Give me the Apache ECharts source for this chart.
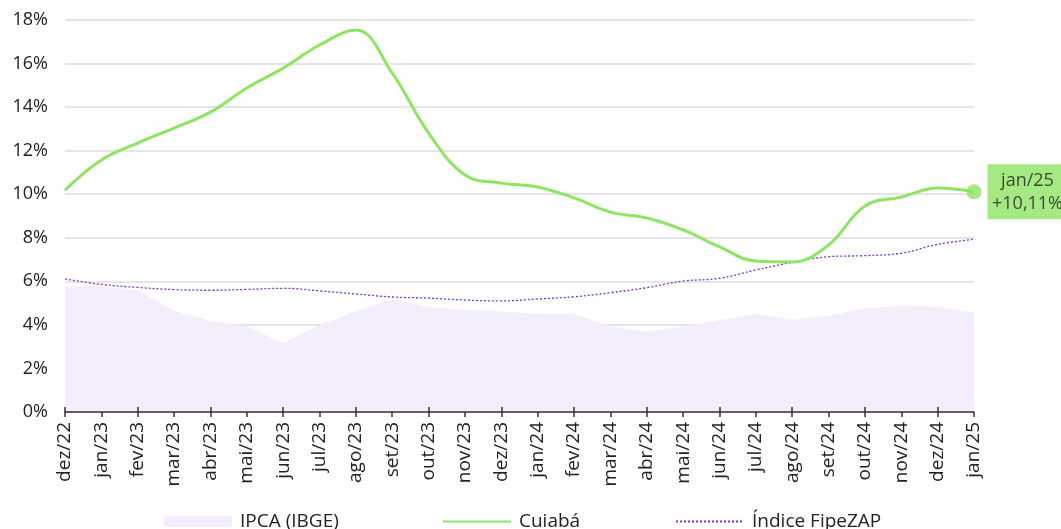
<!DOCTYPE html>
<html>
<head>
<meta charset="utf-8">
<script src="https://cdn.jsdelivr.net/npm/echarts@6/dist/echarts.min.js"></script>
<style>
  html, body { margin: 0; padding: 0; background: #fff; }
  #chart { width: 1061px; height: 529px; }
</style>
</head>
<body>
<div id="chart"></div>
<script>
// Months (12-month accumulated change, %)
const months = ['dez/22','jan/23','fev/23','mar/23','abr/23','mai/23','jun/23','jul/23','ago/23','set/23','out/23','nov/23','dez/23',
  'jan/24','fev/24','mar/24','abr/24','mai/24','jun/24','jul/24','ago/24','set/24','out/24','nov/24','dez/24','jan/25'];

// IPCA (IBGE) – consumer inflation, 12 months
const ipca = [5.79,5.77,5.60,4.65,4.18,3.94,3.16,3.99,4.61,5.19,4.82,4.68,4.62,
  4.51,4.50,3.93,3.69,3.93,4.23,4.50,4.24,4.42,4.76,4.87,4.83,4.56];

// Cuiabá – residential sale price, 12 months
const cuiaba = [10.19,11.57,12.35,13.04,13.77,14.88,15.79,16.85,17.54,15.56,12.81,10.88,10.51,
  10.33,9.83,9.18,8.91,8.36,7.58,6.93,6.89,7.67,9.46,9.87,10.28,10.11];

// Índice FipeZAP – national composite, 12 months
const fipezap = [6.11,5.86,5.72,5.62,5.59,5.63,5.68,5.56,5.42,5.28,5.23,5.14,5.10,
  5.19,5.29,5.48,5.71,6.01,6.14,6.52,6.87,7.13,7.18,7.29,7.70,7.93];

const yTicks = [0,2,4,6,8,10,12,14,16,18];

const GREEN = '#8ee463';
const PURPLE = '#7a2fe0';
const LAVENDER = '#f3edfc';
const TEXT = '#222222';
const FONT = '"Open Sans", "Noto Sans", sans-serif';
const NO_SYMBOL = { color: 'rgba(0,0,0,0)', borderColor: 'rgba(0,0,0,0)', borderWidth: 0 };

const last = months.length - 1;
const fmtPct = v => v.toFixed(2).replace('.', ',');

// one legend block per entry so each sits at its own place along the bottom
function legendAt(left, item) {
  return {
    top: 507,
    left: left,
    itemWidth: 68,
    itemHeight: 11,
    textStyle: { fontFamily: FONT, fontSize: 19, color: TEXT, padding: [0, 0, 0, 3] },
    data: [item]
  };
}

const chart = echarts.init(document.getElementById('chart'));
chart.setOption({
  animation: false,
  textStyle: { fontFamily: FONT },
  grid: { left: 65, right: 87, top: 20, bottom: 117, containLabel: false },
  legend: [
    legendAt(159, { name: 'IPCA (IBGE)', icon: 'rect', itemStyle: { color: LAVENDER } }),
    legendAt(437, { name: 'Cuiabá', itemStyle: NO_SYMBOL }),
    legendAt(670, { name: 'Índice FipeZAP', itemStyle: NO_SYMBOL })
  ],
  xAxis: [
    {
      type: 'category',
      data: months,
      boundaryGap: false,
      axisLine: { show: true, lineStyle: { color: '#333', width: 1.5 } },
      axisTick: { show: true, length: 5, lineStyle: { color: '#333', width: 1.5 } },
      axisLabel: { rotate: 90, margin: 10, fontSize: 19, color: TEXT, fontFamily: FONT, interval: 0 },
      splitLine: { show: false },
      z: 5
    },
    {
      // inner half of the crossing tick marks
      type: 'category',
      data: months,
      boundaryGap: false,
      position: 'bottom',
      axisLine: { show: false },
      axisTick: { show: true, inside: true, length: 5, lineStyle: { color: '#333', width: 1.5 } },
      axisLabel: { show: false },
      splitLine: { show: false },
      z: 5
    }
  ],
  yAxis: {
    type: 'value',
    min: yTicks[0],
    max: yTicks[yTicks.length - 1],
    interval: 2,
    axisLine: { show: false },
    axisTick: { show: false },
    axisLabel: { formatter: v => v + '%', fontSize: 18, color: TEXT, margin: 17, fontFamily: FONT },
    splitLine: { show: true, lineStyle: { color: '#dcdcdc', width: 1.5 } }
  },
  series: [
    {
      name: 'IPCA (IBGE)',
      type: 'line',
      data: ipca,
      symbol: 'none',
      lineStyle: { width: 0, opacity: 0 },
      itemStyle: { color: LAVENDER },
      areaStyle: { color: LAVENDER, opacity: 1 },
      z: 1
    },
    {
      name: 'Índice FipeZAP',
      type: 'line',
      data: fipezap,
      symbol: 'none',
      smooth: 0.4,
      lineStyle: { color: PURPLE, width: 1.3, type: [2, 2] },
      itemStyle: { color: PURPLE },
      z: 3
    },
    {
      name: 'Cuiabá',
      type: 'line',
      data: cuiaba,
      symbol: 'none',
      smooth: 0.4,
      lineStyle: { color: GREEN, width: 3 },
      itemStyle: { color: GREEN },
      z: 4
    },
    {
      // end point of Cuiabá with its value tag
      name: 'Cuiabá-end',
      type: 'scatter',
      data: [[months[last], cuiaba[last]]],
      symbol: 'circle',
      symbolSize: 15,
      itemStyle: { color: GREEN },
      z: 6,
      label: {
        show: true,
        position: 'right',
        distance: 6,
        formatter: () => '{t|' + months[last] + '}\n{t|+' + fmtPct(cuiaba[last]) + '%}',
        backgroundColor: GREEN,
        padding: [5, 7, 4, 8],
        rich: {
          t: { color: TEXT, fontSize: 18, lineHeight: 23, fontFamily: FONT, width: 64, align: 'center' }
        }
      }
    }
  ]
});
</script>
</body>
</html>
